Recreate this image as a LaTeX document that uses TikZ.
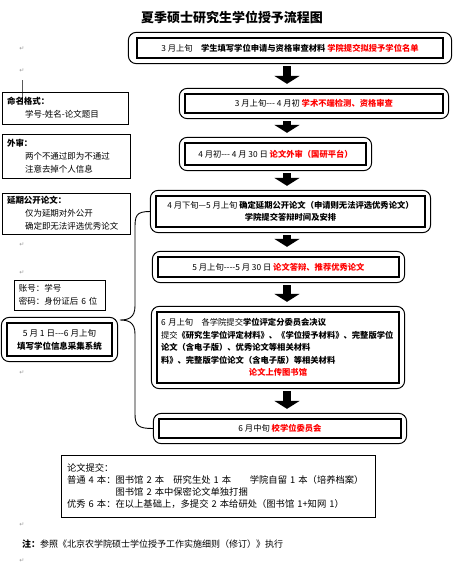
\documentclass[tikz,border=0pt]{standalone}
\usepackage{fontspec}
\setmainfont{Noto Sans CJK SC}
\newfontfamily\symfont{DejaVu Sans}
\usetikzlibrary{arrows.meta,fit,calc}
\definecolor{ink}{HTML}{000000}
\definecolor{hot}{HTML}{FF0000}
\definecolor{faint}{HTML}{9A9A9A}
\newcommand{\boxfont}{\fontsize{8.3pt}{12.5pt}\selectfont}
\newcommand{\sidefont}{\fontsize{8.5pt}{13pt}\selectfont}
\newcommand{\hot}[1]{\textbf{\textcolor{hot}{#1}}}
\tikzset{
  every node/.style={text=ink},
  stepbox/.style={draw=ink,line width=1.3pt,align=center,inner sep=2pt,font=\boxfont},
  roundbox/.style={draw=ink,line width=1pt,rounded corners=8pt,inner sep=5pt},
  sidebox/.style={draw=ink,line width=1pt,align=left,inner xsep=5pt,inner ysep=3pt,font=\sidefont},
  fat/.style={draw=ink,line width=7.5pt,-{Triangle[width=25pt,length=8pt]},shorten <=2pt,shorten >=4pt},
  brace/.style={draw=ink,line width=0.9pt},
  pmark/.style={text=faint,font=\symfont\fontsize{6pt}{6pt}\selectfont,inner sep=0pt},
}

\begin{document}
\begin{tikzpicture}[x=1pt,y=-1pt]
\fill[white] (0,0) rectangle (469,579);
\useasboundingbox (0,0) rectangle (469,579);

\node[font=\fontsize{13pt}{15pt}\selectfont\bfseries] (title) at (232,17) {夏季硕士研究生学位授予流程图};

% main column
\node[stepbox,minimum width=306pt,minimum height=20pt] (b1) at (290,48) {3 月上旬\quad\textbf{学生填写学位申请与资格审查材料} \hot{学院提交拟授予学位名单}};
\node[roundbox,inner xsep=8pt,fit=(b1)] (b1o) {};
\node[stepbox,minimum width=258pt,minimum height=19pt] (b2) at (314,103.5) {3 月上旬-{}-{}- 4 月初 \hot{学术不端检测、资格审查}};
\node[roundbox,fit=(b2)] (b2o) {};
\node[stepbox,minimum width=181pt,minimum height=22pt] (b3) at (275.5,154) {4 月初-{}-{}- 4 月 30 日 \hot{论文外审（国研平台）}};
\node[roundbox,fit=(b3)] (b3o) {};
\node[stepbox,minimum width=269pt,minimum height=31pt] (b4) at (290.5,211.5) {4 月下旬—5 月上旬\ \textbf{确定延期公开论文（申请则无法评选优秀论文）}\\\textbf{学院提交答辩时间及安排}};
\node[roundbox,fit=(b4)] (b4o) {};
\node[stepbox,minimum width=241pt,minimum height=20pt] (b5) at (278.5,267) {5 月上旬-{}-{}-{}-5 月 30 日 \hot{论文答辩、推荐优秀论文}};
\node[roundbox,fit=(b5)] (b5o) {};
\node[stepbox,align=left,text width=234pt,inner xsep=4pt,minimum height=71pt] (b6) at (278,347.5) {6 月上旬\quad 各学院提交\textbf{学位评定分委员会决议}\\
提交\textbf{《研究生学位评定材料》、《学位授予材料》、完整版学位}\\
\textbf{论文（含电子版）、优秀论文等相关材料}\\
\textbf{料》、完整版学位论文（含电子版）等相关材料}\\
\makebox[234pt]{\hot{论文上传图书馆}}};
\node[roundbox,fit=(b6)] (b6o) {};
\node[stepbox,minimum width=242pt,minimum height=19pt] (b7) at (280,428.5) {6 月中旬 \hot{校学位委员会}};
\node[roundbox,fit=(b7)] (b7o) {};

\coordinate (ax) at (287,0);
\draw[fat] (b1o.south -| ax) -- (b2o.north -| ax);
\draw[fat] (b2o.south -| ax) -- (b3o.north -| ax);
\draw[fat] (b3o.south -| ax) -- (b4o.north -| ax);
\draw[fat] (b4o.south -| ax) -- (b5o.north -| ax);
\draw[fat] (b5o.south -| ax) -- (b6o.north -| ax);
\draw[fat] (b6o.south -| ax) -- (b7o.north -| ax);

% side notes
\node[sidebox,text width=116pt,minimum height=32pt] (name) at (65,108) {\textbf{命名格式：}\\\hspace*{18pt}学号-姓名-论文题目};
\node[sidebox,text width=118pt,minimum height=44pt] (review) at (66,156) {\textbf{外审：}\\\hspace*{18pt}两个不通过即为不通过\\\hspace*{18pt}注意去掉个人信息};
\node[sidebox,text width=118pt,minimum height=41pt] (delay) at (66,213.5) {\textbf{延期公开论文：}\\\hspace*{18pt}仅为延期对外公开\\\hspace*{18pt}确定即无法评选优秀论文};
\node[sidebox,text width=81pt,minimum height=30pt] (acct) at (59.5,295) {账号：学号\\密码：身份证后 6 位};
\node[stepbox,minimum width=105pt,minimum height=33pt,font=\sidefont] (info) at (59.5,339.5) {5 月 1 日-{}-{}-6 月上旬\\\textbf{填写学位信息采集系统}};
\node[roundbox,fit=(info)] (infoo) {};
\draw[line width=0.7pt] (22,80) -- (name.north -| 22,0) -- ++(0,11);

% brace from the info box to the later steps
\coordinate (tip) at (120,320);
\draw[brace] (b4o.west) .. controls +(-14,0) and +(0,-12) .. (135,228) -- (135,306)
  .. controls +(0,12) and +(8,0) .. (tip)
  .. controls +(8,0) and +(0,-12) .. (135,334) -- (135,414)
  .. controls +(0,12) and +(-14,0) .. (b7o.west);

% submission and note
\node[sidebox,font=\fontsize{9.3pt}{12.3pt}\selectfont,inner xsep=6pt,text width=302pt,minimum height=62pt] (sub) at (218,486) {论文提交：\\
普通 4 本：图书馆 2 本\quad 研究生处 1 本\qquad 学院自留 1 本（培养档案）\\
\phantom{普通 4 本：}图书馆 2 本中保密论文单独打捆\\
优秀 6 本：在以上基础上，多提交 2 本给研处（图书馆 1+知网 1）};
\node[anchor=west,inner sep=0pt,font=\fontsize{9pt}{11pt}\selectfont] (note) at (22,544) {\textbf{注：}参照《北京农学院硕士学位授予工作实施细则（修订）》执行};

\foreach \y [count=\i] in {49,71,245,273,373,525,561}
  \node[pmark] (pm\i) at (22,\y) {↵};
\end{tikzpicture}
\end{document}
